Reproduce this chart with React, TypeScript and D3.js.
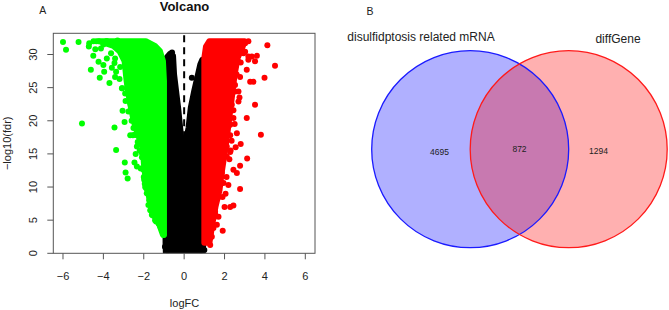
import React from 'react';
import * as d3 from 'd3';

// ---------- Volcano data ----------
const xTicks = [-6, -4, -2, 0, 2, 4, 6];
const yTicks = [0, 5, 10, 15, 20, 25, 30];

// dense green cloud envelope: [fdr, left logFC, right logFC]
const greenCloud: [number, number, number][] = [
  [2.8, -1.05, -1.0],
  [4.5, -1.25, -1.0],
  [6, -1.55, -1.0],
  [8, -1.7, -1.0],
  [10, -1.85, -1.0],
  [13, -1.98, -1.0],
  [16, -2.05, -1.0],
  [18, -2.3, -1.0],
  [20, -2.5, -1.0],
  [23, -2.7, -1.0],
  [26, -2.85, -1.0],
  [29, -2.95, -1.05],
  [30.5, -3.2, -1.2],
  [31.3, -3.5, -1.45],
  [32.0, -4.2, -1.9],
];

// dense red cloud envelope: [fdr, left logFC, right logFC]
const redCloud: [number, number, number][] = [
  [1.6, 1.0, 1.25],
  [2.5, 1.0, 1.3],
  [4.5, 1.0, 1.4],
  [7, 1.0, 1.55],
  [9.5, 1.0, 1.75],
  [12, 1.0, 1.85],
  [16, 1.0, 2.05],
  [19.5, 1.0, 2.2],
  [24.5, 1.0, 2.4],
  [27, 1.0, 2.5],
  [29.5, 1.0, 2.65],
  [31.2, 1.08, 2.9],
  [32.0, 1.25, 3.0],
];

// black (non-significant) cloud outline: [logFC, fdr]
const blackCloud: [number, number][] = [
  [-0.9, -0.5],
  [-0.92, 1.5],
  [-0.95, 28.0],
  [-0.85, 29.6],
  [-0.7, 30.1],
  [-0.55, 29.8],
  [-0.5, 27],
  [-0.38, 24],
  [-0.3, 22],
  [-0.2, 19],
  [-0.1, 16],
  [0, 14],
  [0.05, 16],
  [0.22, 19],
  [0.33, 22],
  [0.5, 24.5],
  [0.65, 26.5],
  [0.8, 28.5],
  [0.9, 29.2],
  [0.95, 28.0],
  [0.95, 1.5],
  [0.9, -0.5],
];

const greenPoints: [number, number][] = [
  [-6.0, 31.9], [-5.85, 30.7], [-5.23, 31.9], [-4.7, 31.7], [-4.72, 31.2],
  [-4.5, 29.8], [-4.62, 27.7], [-4.18, 26.5], [-4.35, 32.0], [-4.24, 28.9],
  [-4.12, 30.9], [-3.96, 27.4], [-3.7, 25.7], [-3.62, 30.2], [-3.45, 28.7],
  [-3.58, 28.0], [-3.42, 26.6], [-3.17, 28.1], [-3.2, 26.3], [-3.07, 24.9],
  [-4.0, 31.5], [-3.85, 32.0], [-3.6, 31.9], [-3.3, 31.2], [-3.3, 32.1],
  [-3.0, 30.0], [-5.06, 19.6], [-3.45, 19.0], [-3.37, 15.6], [-2.94, 13.7],
  [-2.9, 12.2], [-2.8, 11.3], [-2.67, 17.8], [-2.54, 17.8], [-2.45, 17.9],
  [-2.76, 21.4], [-2.46, 13.7], [-2.34, 13.1], [-2.09, 14.5], [-2.2, 15.5],
  [-2.3, 16.8], [-2.9, 23.0], [-2.6, 20.0], [-2.65, 22.5], [-1.88, 9.8],
  [-1.85, 9.05], [-1.73, 8.0], [-1.68, 6.5], [-1.39, 4.8], [-1.16, 3.9],
  [-1.02, 2.75], [-1.55, 5.7], [-2.0, 11.5], [-1.95, 10.5], [-2.15, 12.8],
  [-3.05, 21.5], [-2.95, 19.8], [-2.4, 15.0],
  [-2.8, 25.4], [-2.92, 24.1], [-3.08, 24.9], [-2.67, 21.5], [-2.7, 22.9],
  [-2.43, 20.9], [-2.51, 18.9], [-2.34, 17.8], [-2.09, 17.6], [-3.37, 27.4],
  [-3.42, 29.4], [-3.83, 29.4], [-4.0, 28.4], [-3.2, 30.8], [-3.0, 29.9],
  [-4.4, 30.8], [-4.24, 32.0], [-3.83, 32.0], [-4.49, 32.0],
  [-2.18, 16.6], [-2.34, 16.1], [-2.09, 15.1], [-2.01, 12.6], [-1.98, 11.1],
  [-1.93, 10.0], [-1.77, 7.3], [-1.6, 5.8], [-1.44, 5.0], [-1.27, 4.5],
];

const redPoints: [number, number][] = [
  [4.12, 31.4], [4.5, 28.3], [3.98, 26.5], [3.51, 22.4], [3.8, 17.9],
  [3.1, 20.4], [3.12, 14.3], [2.77, 13.2], [2.77, 9.7], [2.8, 16.5],
  [2.61, 18.1], [2.44, 7.2], [2.28, 7.0], [2.0, 7.0], [1.91, 3.4],
  [1.29, 1.25], [2.19, 10.3], [2.61, 12.1], [3.18, 29.7], [3.6, 29.8],
  [3.51, 29.0], [3.02, 31.7], [3.18, 32.0], [3.27, 25.9], [3.43, 25.9],
  [3.1, 27.7], [2.52, 25.4], [2.69, 24.4], [2.74, 23.5], [2.44, 21.6],
  [2.44, 12.6], [2.24, 14.2], [2.9, 30.5], [2.8, 28.8], [2.6, 27.0],
  [2.5, 19.5], [2.35, 17.0], [2.1, 11.5], [1.7, 5.5], [1.62, 4.3],
  [1.45, 3.8], [1.37, 2.5], [2.3, 15.5], [2.55, 16.0], [3.02, 30.4],
  [1.53, 6.0], [1.9, 8.5], [2.05, 9.0],
  [2.44, 27.9], [2.69, 28.9], [2.94, 30.2], [3.18, 29.2], [2.77, 26.6],
  [2.53, 24.4], [2.36, 22.4], [2.69, 22.9], [2.44, 20.4], [2.28, 19.4],
  [2.28, 17.8], [3.35, 29.7], [2.11, 16.1], [2.28, 15.3], [2.11, 14.6],
  [1.87, 12.1], [1.95, 10.6], [1.7, 8.5], [1.53, 6.3], [1.45, 5.3],
  [1.29, 3.0],
];

const blackPoints: [number, number][] = [
  [0.38, 26.5], [-0.95, 1.0], [1.0, 0.5], [-0.6, 30.3],
];

// ---------- Venn data ----------
const vennSets = ['disulfidptosis related mRNA', 'diffGene'];
const vennCounts = [4695, 872, 1294];

const FONT = '"Liberation Sans", Arial, Helvetica, sans-serif';

export default function App() {
  const x = d3.scaleLinear().domain([-6.48, 6.48]).range([53.3, 315]);
  const y = d3.scaleLinear().domain([0, 33.2]).range([253.3, 33.3]);
  const area = d3
    .area<[number, number, number]>()
    .y((d) => y(d[0]))
    .x0((d) => x(d[1]))
    .x1((d) => x(d[2]));
  const line = d3
    .line<[number, number]>()
    .x((d) => x(d[0]))
    .y((d) => y(d[1]));
  const R = 3;
  const [x0, x1] = x.range();
  const [yb, yt] = y.range();

  const cloudStyle = (c: string) => ({
    fill: c,
    stroke: c,
    strokeWidth: R * 2,
    strokeLinejoin: 'round' as const,
  });

  // Venn layout
  const cA = { cx: 470.2, cy: 149.2, r: 98.5 };
  const cB = { cx: 568.7, cy: 149.2, r: 98.5 };

  return (
    <svg
      width={669}
      height={310}
      style={{ position: 'absolute', left: 0, top: 0, background: '#fff' }}
      fontFamily={FONT}
    >
      <defs>
        <clipPath id="plotclip">
          <rect x={x0} y={yt} width={x1 - x0} height={yb - yt} />
        </clipPath>
      </defs>

      {/* Panel A */}
      <text x={42.7} y={14} fontSize={10.5} textAnchor="middle" fill="#222">A</text>
      <text x={184.5} y={10.7} fontSize={13} fontWeight="bold" textAnchor="middle" fill="#111">
        Volcano
      </text>

      <g clipPath="url(#plotclip)">
        <path d={line(blackCloud) + 'Z'} {...cloudStyle('#000')} />
        {blackPoints.map((p, i) => (
          <circle key={'b' + i} cx={x(p[0])} cy={y(p[1])} r={R} fill="#000" />
        ))}
        <path d={area(greenCloud) || ''} {...cloudStyle('#00ff00')} />
        {greenPoints.map((p, i) => (
          <circle key={'g' + i} cx={x(p[0])} cy={y(p[1])} r={R} fill="#00ff00" />
        ))}
        <path d={area(redCloud) || ''} {...cloudStyle('#ff0000')} />
        {redPoints.map((p, i) => (
          <circle key={'r' + i} cx={x(p[0])} cy={y(p[1])} r={R} fill="#ff0000" />
        ))}
        <line
          x1={x(0)}
          x2={x(0)}
          y1={yt}
          y2={yb}
          stroke="#000"
          strokeWidth={2}
          strokeDasharray="7 5"
          strokeDashoffset={-2}
        />
      </g>
      <rect x={x0} y={yt} width={x1 - x0} height={yb - yt} fill="none" stroke="#555" strokeWidth={1} />

      {/* x axis */}
      {xTicks.map((t) => (
        <g key={'xt' + t}>
          <line x1={x(t)} x2={x(t)} y1={yb} y2={yb + 6} stroke="#555" />
          <text x={x(t)} y={280} fontSize={11} textAnchor="middle" fill="#222">
            {t < 0 ? '\u2212' + Math.abs(t) : t}
          </text>
        </g>
      ))}
      <text x={184.5} y={306.5} fontSize={11} textAnchor="middle" fill="#222">logFC</text>

      {/* y axis */}
      {yTicks.map((t) => (
        <g key={'yt' + t}>
          <line x1={x0 - 6} x2={x0} y1={y(t)} y2={y(t)} stroke="#555" />
          <text
            transform={`translate(36.7,${y(t)}) rotate(-90)`}
            fontSize={11}
            textAnchor="middle"
            fill="#222"
          >
            {t}
          </text>
        </g>
      ))}
      <text
        transform={`translate(10.5,${(yt + yb) / 2}) rotate(-90)`}
        fontSize={11}
        textAnchor="middle"
        fill="#222"
      >
        {'\u2212log10(fdr)'}
      </text>

      {/* Panel B */}
      <text x={370} y={15} fontSize={10.5} textAnchor="middle" fill="#222">B</text>
      <circle cx={cA.cx} cy={cA.cy} r={cA.r} fill="rgb(0,0,255)" fillOpacity={0.31} />
      <circle cx={cB.cx} cy={cB.cy} r={cB.r} fill="rgb(255,0,0)" fillOpacity={0.31} />
      <circle cx={cA.cx} cy={cA.cy} r={cA.r} fill="none" stroke="#1a1aff" strokeWidth={1.3} />
      <circle cx={cB.cx} cy={cB.cy} r={cB.r} fill="none" stroke="#ff1a1a" strokeWidth={1.3} />
      <text x={421} y={40.7} fontSize={12} textAnchor="middle" fill="#222">{vennSets[0]}</text>
      <text x={618} y={42.7} fontSize={12} textAnchor="middle" fill="#222">{vennSets[1]}</text>
      <text x={439.5} y={155} fontSize={8.5} textAnchor="middle" fill="#222">{vennCounts[0]}</text>
      <text x={519.5} y={152.3} fontSize={8.5} textAnchor="middle" fill="#222">{vennCounts[1]}</text>
      <text x={598.5} y={154} fontSize={8.5} textAnchor="middle" fill="#222">{vennCounts[2]}</text>
    </svg>
  );
}
